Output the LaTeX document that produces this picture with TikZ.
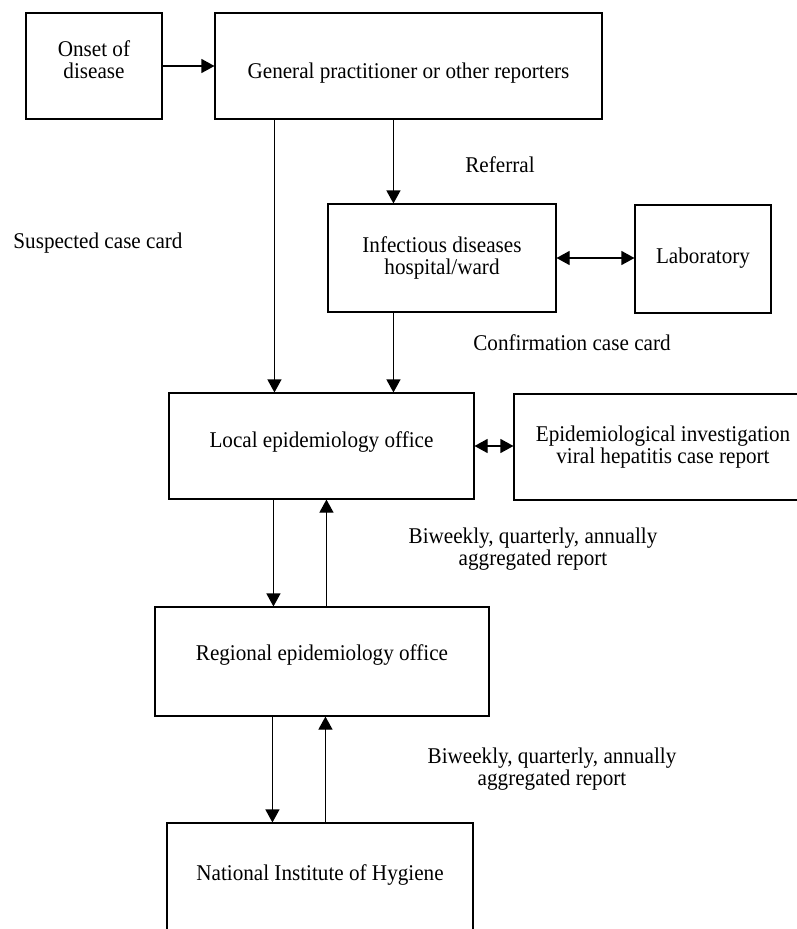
\documentclass[tikz,border=0pt]{standalone}
\usepackage{fontspec}
\setmainfont{Liberation Serif}[FakeStretch=0.94]
\usetikzlibrary{arrows.meta}

\begin{document}
\begin{tikzpicture}[x=1pt, y=-1pt,
  box/.style={draw, line width=1.1pt, align=center, inner sep=0pt,
              font=\fontsize{22.5}{22}\selectfont},
  arrow/.style={-{Triangle[length=13pt,width=14pt]}, line width=1.1pt},
  biarrow/.style={{Triangle[length=13pt,width=14pt]}-{Triangle[length=13pt,width=14pt]},
                  line width=1.1pt},
  note/.style={font=\fontsize{22.5}{22}\selectfont, align=center}
]
  \clip (0,0) rectangle (797,929);

  \node[box, minimum width=136, minimum height=106, text depth=13.4pt] (onset) at (94,66) {Onset of\\disease};
  \node[box, minimum width=387, minimum height=106, text height=28pt, text depth=4pt] (gp) at (408.5,66) {General practitioner or other reporters};
  \node[box, minimum width=228, minimum height=108] (infect) at (442,258) {Infectious diseases\\hospital/ward};
  \node[box, minimum width=136, minimum height=108, text height=12pt, text depth=4pt] (lab) at (703,259) {Laboratory};
  \node[box, minimum width=305, minimum height=106, text height=7pt, text depth=5pt] (local) at (321.5,446) {Local epidemiology office};
  \node[box, minimum width=298, minimum height=106] (epi) at (663,447) {Epidemiological investigation\\viral hepatitis case report};
  \node[box, minimum width=334, minimum height=109, text height=2pt, text depth=5pt] (regional) at (322,661.5) {Regional epidemiology office};
  \node[box, minimum width=306, minimum height=109, text height=10pt, text depth=5pt] (national) at (320,877.5) {National Institute of Hygiene};

  \draw[arrow] (onset) -- (gp);
  \draw[arrow] ([xshift=60]gp.south west) -- ([xshift=60]gp.south west |- local.north);
  \draw[arrow] ([xshift=179]gp.south west) -- ([xshift=179]gp.south west |- infect.north);
  \draw[biarrow] (infect.east) -- (infect.east -| lab.west);
  \draw[arrow] ([xshift=66]infect.south west) -- ([xshift=66]infect.south west |- local.north);
  \draw[biarrow] (local.east) -- (local.east -| epi.west);
  \draw[arrow] ([xshift=105]local.south west) -- ([xshift=105]local.south west |- regional.north);
  \draw[arrow] ([xshift=172]regional.north west) -- ([xshift=172]regional.north west |- local.south);
  \draw[arrow] ([xshift=118]regional.south west) -- ([xshift=118]regional.south west |- national.north);
  \draw[arrow] ([xshift=159]national.north west) -- ([xshift=159]national.north west |- regional.south);

  \node[note] (referral) at (500,165) {Referral};
  \node[note] (suspected) at (98,243) {Suspected case card};
  \node[note] (confirm) at (572,343) {Confirmation case card};
  \node[note] (agg1) at (533,549) {Biweekly, quarterly, annually\\aggregated report};
  \node[note] (agg2) at (552,769) {Biweekly, quarterly, annually\\aggregated report};
\end{tikzpicture}
\end{document}
